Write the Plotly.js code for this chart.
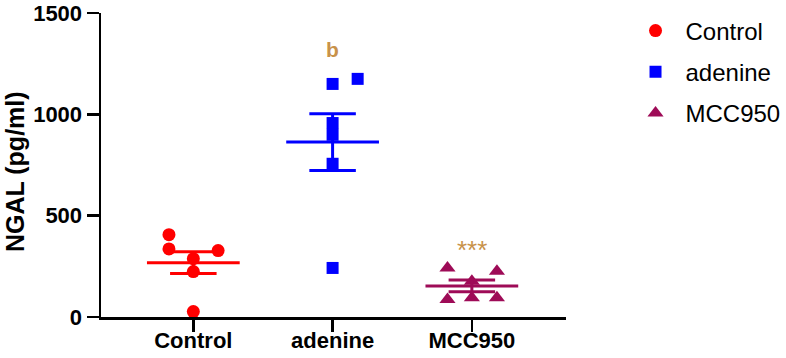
<!DOCTYPE html>
<html>
<head>
<meta charset="utf-8">
<script src="https://cdn.plot.ly/plotly-3.0.1.min.js"></script>
<style>html,body{margin:0;padding:0;background:#fff;}#chart{width:786px;height:358px;}</style>
</head>
<body>
<div id="chart"></div>
<script>
// ---- data ----
var categories = ["Control", "adenine", "MCC950"];
var controlValues = [406, 336, 328, 288, 224, 27];
var adenineValues = [1150, 1175, 957, 899, 756, 242];
var mcc950Values = [242, 226, 176, 86, 95, 95];
var yTickValues = [0, 500, 1000, 1500];
var yTitle = "NGAL (pg/ml)";
var annotationTexts = ["", "b", "***"];

// ---- styling / layout (not data) ----
var FONT = "Liberation Sans, Arial, sans-serif";
var colors = ["#FF0000", "#0000FF", "#9E0B57"];
var symbols = ["circle", "square", "triangle-up"];
var markerSizes = [13, 12, 14];
var jitter = [
  [-0.175, -0.175, 0.178, 0, 0, 0],
  [0, 0.18, 0, 0, 0, 0],
  [-0.175, 0.18, 0, -0.175, 0, 0.18]
];
var meanHalf = 0.333, capHalf = 0.167;
var groups = [controlValues, adenineValues, mcc950Values];

function mean(a){return a.reduce(function(s,v){return s+v;},0)/a.length;}
function sem(a){var m=mean(a);var ss=a.reduce(function(s,v){return s+(v-m)*(v-m);},0);return Math.sqrt(ss/(a.length-1))/Math.sqrt(a.length);}

var traces = [];
groups.forEach(function(vals, i){
  var xs = vals.map(function(v, j){return i + jitter[i][j];});
  traces.push({
    type: "scatter", mode: "markers", name: categories[i], legendgroup: "g" + i,
    x: xs, y: vals,
    marker: {symbol: symbols[i], size: markerSizes[i], color: colors[i], line: {width: 0}},
    showlegend: true, cliponaxis: false
  });
  var m = mean(vals), s = sem(vals);
  traces.push({
    type: "scatter", mode: "lines", showlegend: false, hoverinfo: "skip", legendgroup: "g" + i,
    x: [i-meanHalf, i+meanHalf, null, i-capHalf, i+capHalf, null, i-capHalf, i+capHalf, null, i, i],
    y: [m, m, null, m+s, m+s, null, m-s, m-s, null, m-s, m+s],
    line: {color: colors[i], width: 3}, cliponaxis: false
  });
});

var annotations = [];
groups.forEach(function(vals, i){
  if (!annotationTexts[i]) return;
  var top = Math.max.apply(null, vals);
  var isB = (i === 1);
  annotations.push({
    x: i, y: isB ? top + 160 : top + 110, xref: "x", yref: "y",
    yshift: isB ? -3 : -4,
    text: annotationTexts[i], showarrow: false,
    font: {family: FONT, size: isB ? 21 : 26, color: "#C8924A", weight: isB ? "bold" : "normal"}
  });
});
// y-axis title placed as rotated text
annotations.push({
  xref: "paper", yref: "paper", x: -0.185, y: 0.48, xanchor: "center", yanchor: "middle",
  text: yTitle, textangle: -90, showarrow: false,
  font: {family: FONT, size: 25, color: "#000", weight: "bold"}
});

var layout = {
  width: 786, height: 358,
  margin: {l: 101, r: 220, t: 13, b: 40.5, pad: 0, autoexpand: false},
  paper_bgcolor: "#fff", plot_bgcolor: "#fff",
  font: {family: FONT, color: "#000"},
  showlegend: true,
  legend: {
    x: 1.128, y: 1.015, xanchor: "left", yanchor: "top",
    font: {family: FONT, size: 24, color: "#000"},
    itemwidth: 50, tracegroupgap: 7, bgcolor: "rgba(0,0,0,0)"
  },
  xaxis: {
    range: [-0.663, 2.676], showgrid: false, zeroline: false,
    showline: true, linecolor: "#000", linewidth: 2.5,
    tickmode: "array", tickvals: [0, 1, 2], ticktext: categories,
    ticks: "outside", ticklen: 12, tickwidth: 2.5, tickcolor: "#000",
    ticklabelstandoff: -10,
    tickfont: {family: FONT, size: 22, color: "#000", weight: "bold"}
  },
  yaxis: {
    range: [0, 1500], showgrid: false, zeroline: false,
    showline: true, linecolor: "#000", linewidth: 2.5,
    tickmode: "array", tickvals: yTickValues,
    ticks: "outside", ticklen: 12, tickwidth: 2.5, tickcolor: "#000",
    tickfont: {family: FONT, size: 22, color: "#000", weight: "bold"}
  },
  annotations: annotations
};

Plotly.newPlot("chart", traces, layout, {displayModeBar: false, staticPlot: true});
</script>
</body>
</html>
